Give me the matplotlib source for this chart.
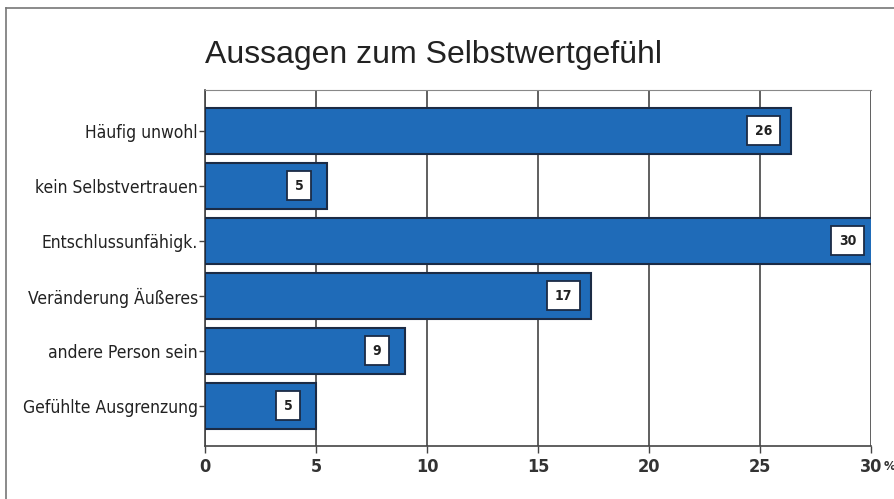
import matplotlib
matplotlib.use("Agg")
import matplotlib.pyplot as plt
from matplotlib.lines import Line2D

# data
categories = ["Häufig unwohl", "kein Selbstvertrauen", "Entschlussunfähigk.",
              "Veränderung Äußeres", "andere Person sein", "Gefühlte Ausgrenzung"]
values = [26.4, 5.5, 30.2, 17.4, 9.0, 5.0]
labels = ["26", "5", "30", "17", "9", "5"]
xticks = [0, 5, 10, 15, 20, 25, 30]

cond = dict(family="DejaVu Sans", stretch="condensed")
bar_color = "#1f6bb8"
edge_color = "#1b2b45"

fig = plt.figure(figsize=(8.95, 4.99), dpi=100)
ax = fig.add_axes([205/895, 1 - 446/499, (871 - 205)/895, (446 - 90)/499])

ypos = list(range(len(categories)))
ax.barh(ypos, values, height=0.84, color=bar_color, edgecolor=edge_color,
        linewidth=1.5, zorder=3)

# value boxes near the bar ends
for y, v, lab in zip(ypos, values, labels):
    ax.text(v - 1.25, y, lab, ha="center", va="center", fontsize=10,
            fontweight="bold", color="#222222", zorder=5,
            bbox=dict(boxstyle="square,pad=0.55", fc="white", ec=edge_color, lw=1.3), **cond)

ax.set_xlim(0, 30)
ax.set_ylim(5.73, -0.74)
ax.set_xticks(xticks)
ax.set_xticklabels([str(t) for t in xticks], fontsize=13, fontweight="bold",
                   color="#333333", **cond)
ax.set_yticks(ypos)
ax.set_yticklabels(categories, fontsize=12.5, color="#222222", **cond)
ax.tick_params(axis="y", length=4, width=1, color="#444444", pad=1)
ax.tick_params(axis="x", length=5, width=1, color="#444444", pad=4)

ax.grid(axis="x", color="#444444", linewidth=1.2, zorder=0)
for s in ["left", "bottom"]:
    ax.spines[s].set_color("#444444")
    ax.spines[s].set_linewidth(1.2)
ax.spines["top"].set_color("#888888")
ax.spines["right"].set_visible(False)

# small "%" after the 30
ax.text(30.55, -0.04, "%", transform=ax.get_xaxis_transform(), ha="left", va="top",
        fontsize=9.5, fontweight="bold", color="#333333", **cond)

fig.text(205/895, 1 - 63/499, "Aussagen zum Selbstwertgefühl", fontsize=23,
         family=["Liberation Sans", "DejaVu Sans"], color="#222222", ha="left", va="baseline")

# outer frame (left and top edges)
fig.add_artist(Line2D([6/895, 6/895], [0, 1 - 8/499], transform=fig.transFigure,
                      color="#777777", lw=1.2))
fig.add_artist(Line2D([6/895, 1], [1 - 8/499, 1 - 8/499], transform=fig.transFigure,
                      color="#777777", lw=1.2))

fig.savefig("out.png", dpi=100, facecolor="white")
